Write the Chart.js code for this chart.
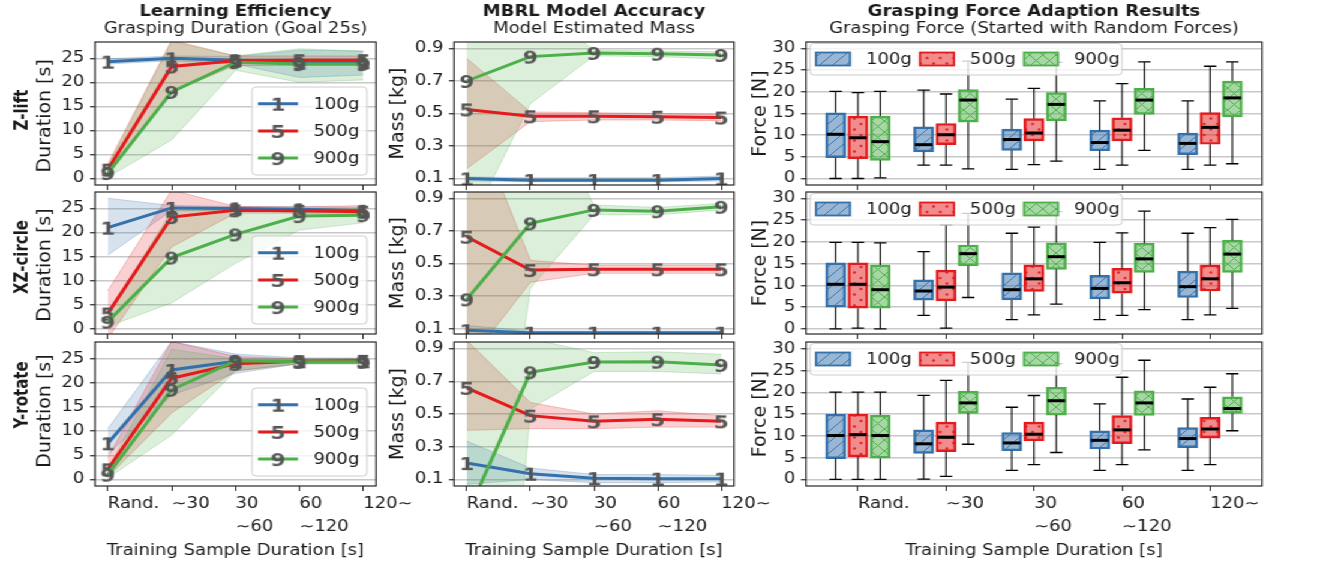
<!DOCTYPE html>
<html>
<head>
<meta charset="utf-8">
<script src="https://cdn.jsdelivr.net/npm/chart.js@4.4.1/dist/chart.umd.min.js"></script>
<style>
  html, body { margin: 0; padding: 0; background: #fff; overflow: hidden; }
  #fig { position: relative; width: 1106px; height: 565px; transform: scaleX(1.2); transform-origin: 0 0; }
  #fig canvas { position: absolute; left: 0; top: 0; }
</style>
</head>
<body>
<div id="fig"></div>
<script>
// ---- data ----
const xLabels = [["Rand."], ["∼30"], ["30", "∼60"], ["60", "∼120"], ["120∼"]];
const masses = ["100g", "500g", "900g"];
const markers = ["1", "5", "9"];
const rowNames = ["Z-lift", "XZ-circle", "Y-rotate"];

// grasping duration [s], mean and band
const durZlift100 = [24.3, 25.0, 24.6, 24.1, 24.2];
const durZlift100Lo = [23.8, 24.5, 23.8, 21.0, 21.5];
const durZlift100Hi = [24.9, 25.5, 25.4, 26.7, 26.5];
const durZlift500 = [1.8, 23.3, 24.5, 24.6, 24.6];
const durZlift500Lo = [0.5, 18.0, 23.5, 23.5, 23.5];
const durZlift500Hi = [3.0, 28.8, 25.5, 25.5, 25.5];
const durZlift900 = [1.1, 18.0, 24.2, 23.8, 23.8];
const durZlift900Lo = [0.2, 8.0, 22.5, 20.0, 20.5];
const durZlift900Hi = [2.5, 28.5, 25.5, 27.0, 26.5];

const durXz100 = [21.0, 25.1, 25.0, 24.8, 24.5];
const durXz100Lo = [15.3, 24.5, 24.5, 24.2, 24.0];
const durXz100Hi = [27.1, 25.6, 25.4, 25.4, 25.2];
const durXz500 = [3.2, 23.2, 24.6, 24.5, 24.3];
const durXz500Lo = [-2.0, 17.0, 24.0, 24.0, 23.5];
const durXz500Hi = [7.9, 28.8, 25.4, 25.3, 25.6];
const durXz900 = [1.5, 14.8, 19.6, 23.4, 23.6];
const durXz900Lo = [0.5, 5.4, 13.6, 20.5, 22.0];
const durXz900Hi = [3.0, 24.5, 24.8, 25.0, 25.0];

const durYrot100 = [7.5, 22.7, 24.5, 24.5, 24.5];
const durYrot100Lo = [5.2, 17.5, 22.0, 24.0, 24.0];
const durYrot100Hi = [10.5, 28.6, 26.0, 25.2, 25.2];
const durYrot500 = [2.1, 21.0, 24.0, 24.5, 24.6];
const durYrot500Lo = [0.5, 13.8, 22.5, 24.0, 24.0];
const durYrot500Hi = [4.5, 28.6, 25.5, 25.0, 25.0];
const durYrot900 = [1.0, 18.6, 24.6, 24.4, 24.4];
const durYrot900Lo = [0.3, 9.2, 22.5, 24.0, 24.0];
const durYrot900Hi = [2.0, 27.0, 25.0, 25.0, 25.0];

// model estimated mass [kg], mean and band
const massZlift100 = [0.10, 0.09, 0.09, 0.09, 0.10];
const massZlift100Lo = [0.085, 0.08, 0.08, 0.08, 0.085];
const massZlift100Hi = [0.11, 0.105, 0.105, 0.105, 0.115];
const massZlift500 = [0.525, 0.483, 0.483, 0.48, 0.475];
const massZlift500Lo = [0.16, 0.45, 0.46, 0.46, 0.455];
const massZlift500Hi = [0.84, 0.51, 0.505, 0.50, 0.495];
const massZlift900 = [0.70, 0.85, 0.873, 0.868, 0.86];
const massZlift900Lo = [-0.22, 0.56, 0.855, 0.85, 0.835];
const massZlift900Hi = [1.3, 1.2, 0.89, 0.885, 0.88];

const massXz100 = [0.09, 0.075, 0.075, 0.075, 0.075];
const massXz100Lo = [0.06, 0.065, 0.065, 0.065, 0.065];
const massXz100Hi = [0.12, 0.085, 0.085, 0.085, 0.085];
const massXz500 = [0.665, 0.46, 0.465, 0.465, 0.465];
const massXz500Lo = [-0.12, 0.385, 0.44, 0.44, 0.44];
const massXz500Hi = [1.5, 0.52, 0.49, 0.49, 0.49];
const massXz900 = [0.28, 0.747, 0.83, 0.822, 0.849];
const massXz900Lo = [-2.4, 0.348, 0.80, 0.80, 0.83];
const massXz900Hi = [2.5, 1.6, 0.86, 0.845, 0.87];

const massYrot100 = [0.20, 0.135, 0.108, 0.105, 0.105];
const massYrot100Lo = [0.07, 0.10, 0.08, 0.08, 0.085];
const massYrot100Hi = [0.335, 0.17, 0.13, 0.13, 0.125];
const massYrot500 = [0.66, 0.49, 0.455, 0.468, 0.455];
const massYrot500Lo = [0.40, 0.41, 0.41, 0.42, 0.42];
const massYrot500Hi = [0.95, 0.57, 0.50, 0.52, 0.49];
const massYrot900 = [-0.12, 0.755, 0.818, 0.82, 0.80];
const massYrot900Lo = [-4.0, 0.53, 0.76, 0.76, 0.745];
const massYrot900Hi = [1.5, 0.96, 0.875, 0.88, 0.865];

// grasping force [N] box stats per group: [min, q1, median, q3, max]
const forceZlift100 = [[0, 4.8, 10.2, 15.15, 20.1], [3.1, 6.15, 7.8, 11.9, 20.4], [2.1, 6.5, 9.0, 11.4, 18.3], [2.1, 6.4, 8.3, 11.15, 17.9], [2.1, 5.5, 8.1, 10.5, 17.9]];
const forceZlift500 = [[0, 4.5, 9.4, 14.4, 19.8], [3.1, 7.8, 10.1, 12.7, 19.5], [3.2, 8.7, 10.5, 13.8, 20.8], [3.1, 8.7, 11.15, 14.0, 21.9], [3.1, 7.9, 11.8, 15.2, 25.9]];
const forceZlift900 = [[0.15, 4.2, 8.5, 14.4, 20.1], [2.2, 13.0, 18.1, 20.5, 27.1], [4.0, 13.3, 17.1, 19.8, 26.8], [6.5, 14.8, 18.1, 20.8, 26.9], [3.4, 14.2, 18.6, 22.5, 26.9]];
const forceXz100 = [[0, 5.0, 10.25, 15.2, 19.9], [3.1, 6.6, 8.7, 11.25, 17.75], [2.1, 6.65, 9.0, 12.9, 22.0], [2.1, 6.9, 9.3, 12.3, 19.9], [2.1, 7.2, 9.7, 13.3, 22.0]];
const forceXz500 = [[0.15, 4.75, 10.25, 15.2, 19.9], [0.15, 6.4, 9.6, 13.5, 24.0], [3.2, 8.6, 11.5, 14.7, 23.4], [3.1, 8.2, 10.6, 13.9, 22.1], [3.2, 8.7, 11.5, 14.7, 23.3]];
const forceXz900 = [[0, 4.75, 9.0, 14.7, 19.8], [7.2, 14.5, 17.3, 19.3, 26.6], [5.7, 13.7, 16.6, 19.8, 27.0], [4.4, 13.0, 16.1, 19.7, 27.1], [4.7, 13.0, 17.2, 20.4, 25.2]];
const forceYrot100 = [[0, 4.8, 10.1, 15.0, 20.1], [0.1, 6.0, 8.2, 11.4, 19.35], [2.1, 6.6, 8.4, 10.8, 16.6], [2.1, 7.0, 9.0, 11.2, 17.4], [2.1, 7.3, 9.4, 11.9, 18.5]];
const forceYrot500 = [[0, 5.2, 10.3, 15.0, 20.1], [0.7, 6.4, 9.7, 13.2, 22.8], [3.4, 8.9, 10.4, 13.2, 19.3], [3.4, 8.25, 11.4, 14.7, 23.5], [3.4, 9.5, 11.6, 14.3, 21.2]];
const forceYrot900 = [[0, 4.9, 10.1, 14.8, 20.1], [8.1, 15.2, 17.6, 20.3, 26.9], [6.2, 14.8, 18.1, 21.2, 26.6], [6.8, 14.7, 17.6, 20.4, 27.4], [11.2, 15.2, 16.3, 19.0, 24.3]];

const durTicks = [0, 5, 10, 15, 20, 25];
const massTicks = [0.1, 0.3, 0.5, 0.7, 0.9];
const forceTicks = [0, 5, 10, 15, 20, 25, 30];

// ---- layout (horizontal values measured on the 1327px page, divided by SX) ----
const SX = 1.2;
const u = x => x / SX;
const W = 1106, H = 565;
const cols = { dur: [u(95), u(376)], mass: [u(454), u(734)], force: [u(806), u(1262)] };
const rows = [[42, 185], [192, 334], [342, 486]];
const durRange = [[-1.4, 28.4], [-1.05, 28.4], [-1.35, 28.5]];
const massRange = [[0.06, 0.94], [0.067, 0.94], [0.06, 0.94]];
const forceRange = [[-1.5, 31.5], [-1.2, 31.5], [-1.5, 31.6]];
const rowLabelY = [110, 257, 395];
const durLabelY = [115.8, 265, 411];
const colors = ["#3470aa", "#e41a1c", "#4daf4a"];
const FONT = "'DejaVu Sans', sans-serif";
const TXT = "#1a1a1a";
const YW = 60;
const XH = [8, 8, 62];

Chart.defaults.font.family = FONT;
Chart.defaults.font.size = 15;
Chart.defaults.color = TXT;

const fig = document.getElementById("fig");

function rgba(hex, a) {
  const n = parseInt(hex.slice(1), 16);
  return `rgba(${n >> 16},${(n >> 8) & 255},${n & 255},${a})`;
}

// text markers "1", "5", "9"
const digitImgs = markers.map(d => {
  const c = document.createElement("canvas");
  c.width = 16; c.height = 22;
  const g = c.getContext("2d");
  g.font = "bold 18px " + FONT;
  g.fillStyle = "#555555";
  g.textAlign = "center";
  g.textBaseline = "alphabetic";
  g.fillText(d, 8, 11 + 6.5);
  return c;
});

// hatch patterns for boxes
function hatch(color, kind) {
  const s = 11;
  const c = document.createElement("canvas");
  c.width = s; c.height = s;
  const g = c.getContext("2d");
  g.fillStyle = rgba(color, 0.5);
  g.fillRect(0, 0, s, s);
  g.strokeStyle = rgba(color, 0.9);
  g.fillStyle = rgba(color, 0.95);
  g.lineWidth = 1;
  if (kind === "/" || kind === "x") {
    g.beginPath();
    g.moveTo(0, s); g.lineTo(s, 0);
    g.moveTo(-2, 2); g.lineTo(2, -2);
    g.moveTo(s - 2, s + 2); g.lineTo(s + 2, s - 2);
    g.stroke();
  }
  if (kind === "x") {
    g.beginPath();
    g.moveTo(0, 0); g.lineTo(s, s);
    g.moveTo(s - 2, -2); g.lineTo(s + 2, 2);
    g.moveTo(-2, s - 2); g.lineTo(2, s + 2);
    g.stroke();
  }
  if (kind === ".") {
    [[2.5, 3], [8, 8.5]].forEach(([x, y]) => {
      g.beginPath(); g.arc(x, y, 1.2, 0, Math.PI * 2); g.fill();
    });
  }
  return g.createPattern(c, "repeat");
}
const patterns = [hatch(colors[0], "/"), hatch(colors[1], "."), hatch(colors[2], "x")];

function roundRect(ctx, x, y, w, h, r) {
  ctx.beginPath();
  ctx.moveTo(x + r, y);
  ctx.arcTo(x + w, y, x + w, y + h, r);
  ctx.arcTo(x + w, y + h, x, y + h, r);
  ctx.arcTo(x, y + h, x, y, r);
  ctx.arcTo(x, y, x + w, y, r);
  ctx.closePath();
}

function lineLegend(chart) {
  const a = chart.chartArea, ctx = chart.ctx;
  const bw = u(115), bh = 88, bx = a.right - u(9) - bw, by = a.bottom - 10 - bh;
  roundRect(ctx, bx, by, bw, bh, 3.5);
  ctx.fillStyle = "rgba(255,255,255,0.8)";
  ctx.fill();
  ctx.strokeStyle = "#cccccc"; ctx.lineWidth = 1;
  ctx.stroke();
  masses.forEach((m, k) => {
    const cy = by + 16.7 + k * 27.2;
    ctx.strokeStyle = colors[k]; ctx.lineWidth = 3;
    ctx.beginPath(); ctx.moveTo(bx + u(6), cy); ctx.lineTo(bx + u(46), cy); ctx.stroke();
    const im = digitImgs[k];
    ctx.drawImage(im, bx + u(26) - im.width / 2, cy - im.height / 2);
    ctx.fillStyle = TXT; ctx.font = "15px " + FONT;
    ctx.textAlign = "left"; ctx.textBaseline = "middle";
    ctx.fillText(m, bx + u(61.5), cy + 1);
  });
}

function boxLegend(chart) {
  const a = chart.chartArea, ctx = chart.ctx;
  const bx = a.left + u(4), by = a.top + 1.5, bw = u(312), bh = 31.5;
  roundRect(ctx, bx, by, bw, bh, 3.5);
  ctx.fillStyle = "rgba(255,255,255,0.8)";
  ctx.fill();
  ctx.strokeStyle = "#cccccc"; ctx.lineWidth = 1;
  ctx.stroke();
  masses.forEach((m, k) => {
    const px = bx + u(6 + k * 104), cy = by + 15.5, pw = u(34);
    ctx.fillStyle = "#fff";
    ctx.fillRect(px, cy - 6.5, pw, 13);
    ctx.fillStyle = patterns[k];
    ctx.fillRect(px, cy - 6.5, pw, 13);
    ctx.strokeStyle = colors[k]; ctx.lineWidth = 1.8;
    ctx.strokeRect(px, cy - 6.5, pw, 13);
    ctx.fillStyle = TXT; ctx.font = "15px " + FONT;
    ctx.textAlign = "left"; ctx.textBaseline = "middle";
    ctx.fillText(m, bx + u(56 + k * 104), cy + 1);
  });
}

// frame, titles, axis labels, legends
function makeDecor(texts, legend) {
  return {
    id: "decor",
    afterDatasetsDraw(chart) {
      const a = chart.chartArea, ctx = chart.ctx;
      ctx.save();
      ctx.strokeStyle = "#262626"; ctx.lineWidth = 1.2;
      ctx.strokeRect(a.left, a.top, a.right - a.left, a.bottom - a.top);
      ctx.restore();
    },
    afterDraw(chart) {
      const ctx = chart.ctx;
      texts.forEach(t => {
        ctx.save();
        ctx.font = (t.bold ? "bold " : "") + (t.size || 15) + "px " + FONT;
        ctx.fillStyle = TXT;
        ctx.textAlign = "center";
        ctx.textBaseline = "alphabetic";
        ctx.translate(t.x, t.y);
        if (t.rot) ctx.rotate(-Math.PI / 2);
        if (t.squeeze) ctx.scale(1, t.squeeze);
        ctx.fillText(t.t, 0, 0);
        ctx.restore();
      });
      if (legend) legend(chart);
    }
  };
}

// whiskers, caps and medians from the box stats
const boxWhiskers = {
  id: "boxWhiskers",
  afterDatasetsDraw(chart) {
    const ctx = chart.ctx, y = chart.scales.y;
    ctx.save();
    chart.data.datasets.forEach((d, i) => {
      chart.getDatasetMeta(i).data.forEach((bar, j) => {
        const s = d.stats[j];
        const half = bar.width / 2, cap = half * 0.62;
        const p = s.map(v => y.getPixelForValue(v));
        ctx.strokeStyle = "#000"; ctx.lineWidth = 1.1;
        ctx.beginPath();
        ctx.moveTo(bar.x, p[1]); ctx.lineTo(bar.x, p[0]);
        ctx.moveTo(bar.x, p[3]); ctx.lineTo(bar.x, p[4]);
        ctx.stroke();
        ctx.lineWidth = 1.3;
        ctx.beginPath();
        ctx.moveTo(bar.x - cap, p[0]); ctx.lineTo(bar.x + cap, p[0]);
        ctx.moveTo(bar.x - cap, p[4]); ctx.lineTo(bar.x + cap, p[4]);
        ctx.stroke();
        ctx.lineWidth = 3;
        ctx.beginPath();
        ctx.moveTo(bar.x - half + 1, p[2]); ctx.lineTo(bar.x + half - 1, p[2]);
        ctx.stroke();
      });
    });
    ctx.restore();
  }
};

function scalesFor(r, yRange, yTicks, yFmt, xMin, xMax, xTicks, xFirst) {
  const showX = r === 2;
  return {
    x: {
      type: "linear", min: xMin, max: xMax, offset: false,
      afterFit: s => { s.height = XH[r]; },
      afterBuildTicks: s => { s.ticks = xTicks.map(v => ({ value: v })); },
      grid: { offset: false, drawOnChartArea: false, drawTicks: true, tickLength: 5, tickColor: "#262626", tickWidth: 1 },
      border: { display: false },
      ticks: {
        display: showX, align: "start", padding: 1.8, maxRotation: 0, autoSkip: false,
        font: { size: 15, lineHeight: 1.53 }, color: TXT,
        callback: v => xLabels[v - xFirst]
      }
    },
    y: {
      min: yRange[0], max: yRange[1],
      afterFit: s => { s.width = YW; },
      afterBuildTicks: s => { s.ticks = yTicks.map(v => ({ value: v })); },
      grid: { color: "#c8c8c8", lineWidth: 1.5, tickLength: 4.2, tickColor: "#262626", tickWidth: 1.2 },
      border: { display: false },
      ticks: { padding: 4.6, color: TXT, font: { size: 15 }, callback: yFmt }
    }
  };
}

function layoutFor(col, r) {
  return { padding: { left: col[0] - YW, right: W - col[1], top: rows[r][0], bottom: H - rows[r][1] - XH[r] } };
}

function newCanvas() {
  const c = document.createElement("canvas");
  c.width = W; c.height = H;
  fig.appendChild(c);
  return c;
}

function lineChart(col, r, series, yRange, yTicks, yFmt, texts, legend) {
  const pts = arr => arr.map((v, i) => ({ x: i, y: v }));
  const ds = [];
  series.forEach((s, k) => {
    ds.push({ data: pts(s[2]), borderColor: rgba(colors[k], 0.25), borderWidth: 1, pointRadius: 0, fill: false, order: 13 - k });
    ds.push({ data: pts(s[1]), borderColor: rgba(colors[k], 0.25), borderWidth: 1, pointRadius: 0, fill: "-1", backgroundColor: rgba(colors[k], 0.2), order: 13 - k });
  });
  series.forEach((s, k) => {
    ds.push({ data: pts(s[0]), borderColor: colors[k], borderWidth: 3, pointStyle: digitImgs[k], pointRadius: 8, order: 3 - k, clip: 0 });
  });
  new Chart(newCanvas(), {
    type: "line",
    data: { datasets: ds },
    options: {
      responsive: false, animation: false, devicePixelRatio: 1,
      layout: layoutFor(col, r),
      plugins: { legend: { display: false }, tooltip: { enabled: false } },
      scales: scalesFor(r, yRange, yTicks, yFmt, -0.2, 4.2, [0, 1, 2, 3, 4], 0)
    },
    plugins: [makeDecor(texts, legend)]
  });
}

function boxChart(col, r, groups, texts) {
  const offsets = [-0.253, 0, 0.253];
  const ds = groups.map((stats, k) => ({
    data: stats.map((s, g) => ({ x: g + 1 + offsets[k], y: [s[1], s[3]] })),
    stats: stats,
    backgroundColor: patterns[k],
    borderColor: colors[k],
    borderWidth: 1.8,
    borderSkipped: false,
    barThickness: u(20),
    grouped: false
  }));
  new Chart(newCanvas(), {
    type: "bar",
    data: { datasets: ds },
    options: {
      responsive: false, animation: false, devicePixelRatio: 1,
      layout: layoutFor(col, r),
      plugins: { legend: { display: false }, tooltip: { enabled: false } },
      scales: scalesFor(r, forceRange[r], forceTicks, v => v, 0.41, 5.59, [1, 2, 3, 4, 5], 1)
    },
    plugins: [boxWhiskers, makeDecor(texts, boxLegend)]
  });
}

const durSeries = [
  [[durZlift100, durZlift100Lo, durZlift100Hi], [durZlift500, durZlift500Lo, durZlift500Hi], [durZlift900, durZlift900Lo, durZlift900Hi]],
  [[durXz100, durXz100Lo, durXz100Hi], [durXz500, durXz500Lo, durXz500Hi], [durXz900, durXz900Lo, durXz900Hi]],
  [[durYrot100, durYrot100Lo, durYrot100Hi], [durYrot500, durYrot500Lo, durYrot500Hi], [durYrot900, durYrot900Lo, durYrot900Hi]]
];
const massSeries = [
  [[massZlift100, massZlift100Lo, massZlift100Hi], [massZlift500, massZlift500Lo, massZlift500Hi], [massZlift900, massZlift900Lo, massZlift900Hi]],
  [[massXz100, massXz100Lo, massXz100Hi], [massXz500, massXz500Lo, massXz500Hi], [massXz900, massXz900Lo, massXz900Hi]],
  [[massYrot100, massYrot100Lo, massYrot100Hi], [massYrot500, massYrot500Lo, massYrot500Hi], [massYrot900, massYrot900Lo, massYrot900Hi]]
];
const forceGroups = [
  [forceZlift100, forceZlift500, forceZlift900],
  [forceXz100, forceXz500, forceXz900],
  [forceYrot100, forceYrot500, forceYrot900]
];

const mid = c => (c[0] + c[1]) / 2;
const titles = {
  dur: ["Learning Efficiency", "Grasping Duration (Goal 25s)"],
  mass: ["MBRL Model Accuracy", "Model Estimated Mass"],
  force: ["Grasping Force Adaption Results", "Grasping Force (Started with Random Forces)"]
};
function headTexts(col, key, r) {
  const t = [];
  if (r === 0) {
    t.push({ t: titles[key][0], x: mid(col), y: 15.5, bold: true });
    t.push({ t: titles[key][1], x: mid(col), y: 32.5 });
  }
  if (r === 2) t.push({ t: "Training Sample Duration [s]", x: mid(col), y: 555 });
  return t;
}
// y-axis titles: long rotated text, kept near-square on the stretched page
const yTitle = (t, x, y) => ({ t, x, y, rot: true, size: 19, squeeze: 0.82 });

for (let r = 0; r < 3; r++) {
  const rc = mid(rows[r]);
  lineChart(cols.dur, r, durSeries[r], durRange[r], durTicks, v => v,
    headTexts(cols.dur, "dur", r).concat([
      { t: rowNames[r], x: u(27), y: rowLabelY[r], bold: true, rot: true },
      yTitle("Duration [s]", u(50), durLabelY[r])
    ]), lineLegend);
  lineChart(cols.mass, r, massSeries[r], massRange[r], massTicks, v => v.toFixed(1),
    headTexts(cols.mass, "mass", r).concat([yTitle("Mass [kg]", u(403), rc)]), null);
  boxChart(cols.force, r, forceGroups[r],
    headTexts(cols.force, "force", r).concat([yTitle("Force [N]", u(765), rc)]));
}
</script>
</body>
</html>
